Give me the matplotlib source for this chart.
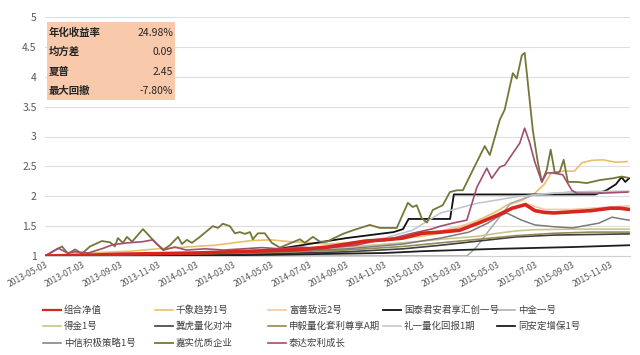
import matplotlib
matplotlib.use("Agg")
from matplotlib import pyplot as plt
from matplotlib.lines import Line2D
from matplotlib.patches import Rectangle

plt.rcParams['font.family'] = ['Noto Sans CJK SC', 'DejaVu Sans']

#----------Data (x = months since 2013-05-03)-------
tick_labels = ['2013-05-03', '2013-07-03', '2013-09-03', '2013-11-03',
               '2014-01-03', '2014-03-03', '2014-05-03', '2014-07-03',
               '2014-09-03', '2014-11-03', '2015-01-03', '2015-03-03',
               '2015-05-03', '2015-07-03', '2015-09-03', '2015-11-03']

stats_names = ['年化收益率', '均方差', '夏普', '最大回撤']
stats_values = ['24.98%', '0.09', '2.45', '-7.80%']

zuhe_m = [0, 2, 4, 6, 8, 10, 12, 13, 14, 15, 16, 17, 18, 19, 20, 21, 22, 23, 24,
          24.8, 25.5, 26.0, 26.5, 27, 28, 29, 30, 30.5, 31]
zuhe_v = [1.0, 1.01, 1.03, 1.04, 1.05, 1.07, 1.09, 1.10, 1.12, 1.15, 1.20, 1.25,
          1.27, 1.30, 1.38, 1.40, 1.43, 1.55, 1.68, 1.80, 1.86, 1.76, 1.73, 1.72,
          1.74, 1.76, 1.80, 1.80, 1.78]

qianxiang_m = [0, 1.5, 3, 4.5, 6, 7.5, 9, 10, 11, 12, 13, 14, 15, 16, 17, 18, 19,
               20, 21, 22, 23, 24, 24.5, 25.3, 26.0, 26.5, 26.9, 27.5, 28.1, 28.5,
               29.0, 29.6, 30.3, 30.9]
qianxiang_v = [1.0, 1.03, 1.06, 1.08, 1.12, 1.15, 1.18, 1.22, 1.26, 1.27, 1.24,
               1.22, 1.20, 1.22, 1.25, 1.26, 1.30, 1.33, 1.38, 1.48, 1.60, 1.75,
               1.85, 1.93, 2.05, 2.20, 2.40, 2.42, 2.42, 2.56, 2.60, 2.61, 2.57, 2.58]

fushan_m = [0, 4, 8, 12, 16, 19, 21, 23, 24.5, 25.5, 26.5, 28, 30, 31]
fushan_v = [1.0, 1.02, 1.04, 1.08, 1.18, 1.30, 1.42, 1.58, 1.75, 1.88, 1.78,
            1.78, 1.82, 1.84]

guotai_m = [0, 5, 8, 12, 14, 16, 18.5, 19.0, 19.3, 21.5, 21.7, 29.2, 29.8, 30.3,
            30.6, 30.8, 31]
guotai_v = [1.0, 1.0, 1.05, 1.10, 1.20, 1.30, 1.40, 1.45, 1.62, 1.62, 2.03, 2.03,
            2.10, 2.20, 2.32, 2.24, 2.30]

zhongjin_m = [0, 12, 18, 20, 21.5, 22.4, 22.9, 23.5, 24.7, 25.9, 26.5, 28, 29, 31]
zhongjin_v = [1.0, 1.0, 1.0, 1.0, 1.0, 1.0, 1.15, 1.40, 1.88, 2.02, 2.04, 2.07,
              2.08, 2.08]

dejin_m = [0, 4, 8, 12, 16, 19, 21, 23, 24, 25, 26, 28, 30, 31]
dejin_v = [1.0, 1.02, 1.05, 1.10, 1.15, 1.22, 1.28, 1.33, 1.38, 1.42, 1.44, 1.45,
           1.45, 1.45]

jihu_m = [0, 4, 8, 12, 16, 19, 21, 23, 25, 27, 29, 31]
jihu_v = [1.0, 1.0, 1.02, 1.04, 1.07, 1.12, 1.18, 1.25, 1.32, 1.35, 1.36, 1.37]

shenyi_m = [0, 4, 8, 12, 16, 19, 21, 23, 25, 27, 29, 31]
shenyi_v = [1.0, 1.01, 1.03, 1.06, 1.10, 1.16, 1.22, 1.28, 1.34, 1.38, 1.40, 1.40]

liyi_m = [0, 4, 8, 12, 16, 18, 19.5, 21, 22.9, 25.2, 26.5, 28, 31]
liyi_v = [1.0, 1.03, 1.06, 1.10, 1.18, 1.30, 1.43, 1.72, 1.88, 2.00, 2.04, 2.07, 2.08]

tongan_m = [0, 6, 12, 18, 20, 24, 28, 31]
tongan_v = [1.0, 1.0, 1.02, 1.05, 1.08, 1.12, 1.15, 1.18]

zhongxin_m = [0, 4, 8, 12, 16, 19, 21, 22.5, 23.5, 24, 24.5, 25.3, 26, 27, 28,
              29.4, 30.1, 30.6, 31]
zhongxin_v = [1.0, 1.03, 1.05, 1.08, 1.12, 1.20, 1.30, 1.40, 1.55, 1.65, 1.72,
              1.60, 1.52, 1.49, 1.47, 1.55, 1.65, 1.62, 1.60]

jiashi_m = [0, 0.9, 1.22, 1.59, 1.96, 2.39, 3.02, 3.45, 3.71, 3.87, 4.14, 4.35,
            4.62, 5.2, 5.73, 6.26, 6.63, 7.06, 7.27, 7.53, 7.8, 8.22, 8.91, 9.18,
            9.44, 9.81, 10.08, 10.34, 10.61, 10.88, 11.03, 11.3, 11.67, 12.04,
            12.47, 12.84, 13.53, 13.79, 14.22, 14.59, 14.96, 15.81, 16.34, 17.24,
            17.77, 18.67, 19.26, 19.52, 19.73, 20.0, 20.27, 20.58, 21.11, 21.49,
            21.86, 22.18, 22.71, 23.34, 23.61, 24.14, 24.4, 24.83, 25.04, 25.31,
            25.46, 25.89, 26.15, 26.37, 26.63, 26.84, 27.06, 27.32, 27.53, 27.75,
            28.22, 28.75, 29.44, 30.13, 30.61, 30.93]
jiashi_v = [1.0, 1.16, 1.04, 1.11, 1.04, 1.16, 1.25, 1.23, 1.16, 1.30, 1.22, 1.32,
            1.24, 1.45, 1.27, 1.10, 1.18, 1.32, 1.20, 1.27, 1.22, 1.32, 1.50, 1.47,
            1.54, 1.50, 1.38, 1.40, 1.37, 1.40, 1.28, 1.38, 1.38, 1.22, 1.14, 1.19,
            1.28, 1.22, 1.32, 1.24, 1.24, 1.37, 1.43, 1.52, 1.47, 1.47, 1.89, 1.82,
            1.85, 1.63, 1.56, 1.77, 1.85, 2.07, 2.10, 2.10, 2.44, 2.84, 2.69, 3.28,
            3.45, 4.06, 3.97, 4.36, 4.40, 3.11, 2.58, 2.24, 2.44, 2.78, 2.39, 2.41,
            2.61, 2.24, 2.24, 2.22, 2.27, 2.30, 2.33, 2.31]

taida_m = [0, 0.7, 1.2, 1.6, 2.3, 3.1, 3.6, 4.4, 5.2, 5.7, 6.3, 6.9, 7.5, 8.5,
           9.5, 10.5, 11.5, 12.5, 13.5, 14.5, 15.5, 16.5, 17.5, 18.5, 19.5, 20.5,
           21.0, 21.64, 22.39, 22.92, 23.45, 23.71, 24.14, 24.4, 24.83, 25.2,
           25.46, 25.73, 25.99, 26.37, 26.63, 26.95, 27.48, 27.96, 28.22, 29.44,
           30.93]
taida_v = [1.0, 1.13, 1.05, 1.07, 1.05, 1.13, 1.19, 1.22, 1.24, 1.27, 1.10, 1.15,
           1.10, 1.12, 1.10, 1.12, 1.14, 1.12, 1.15, 1.13, 1.15, 1.18, 1.25, 1.30,
           1.38, 1.45, 1.50, 1.55, 1.60, 2.15, 2.47, 2.30, 2.49, 2.52, 2.72, 2.89,
           3.14, 2.89, 2.58, 2.24, 2.39, 2.39, 2.36, 2.10, 2.05, 2.05, 2.07]

# legend order: name, x, y, colour, width
series = [
    ('组合净值', zuhe_m, zuhe_v, '#d7261e', 2.6),
    ('千象趋势1号', qianxiang_m, qianxiang_v, '#e9c06a', 1.2),
    ('富善致远2号', fushan_m, fushan_v, '#f6c7a6', 1.2),
    ('国泰君安君享汇创一号', guotai_m, guotai_v, '#111111', 1.3),
    ('中金一号', zhongjin_m, zhongjin_v, '#a9a9a9', 1.1),
    ('得金1号', dejin_m, dejin_v, '#c9c48f', 1.2),
    ('冀虎量化对冲', jihu_m, jihu_v, '#3f3f3f', 1.2),
    ('申毅量化套利尊享A期', shenyi_m, shenyi_v, '#948a54', 1.2),
    ('礼一量化回报1期', liyi_m, liyi_v, '#bcc4cc', 1.1),
    ('同安定增保1号', tongan_m, tongan_v, '#1e1e1e', 1.3),
    ('中信积极策略1号', zhongxin_m, zhongxin_v, '#7b7b7b', 1.1),
    ('嘉实优质企业', jiashi_m, jiashi_v, '#76763a', 1.3),
    ('泰达宏利成长', taida_m, taida_v, '#a34d6f', 1.2),
]

#----------Figure------------------------------------
fig = plt.figure(figsize=(6.4, 3.55), dpi=100)
ax = fig.add_axes([45/640, 1-256/355, 585/640, 239/355])

for name, xm, yv, col, lw in series:
    z = 5 if name == '组合净值' else 3
    ax.plot(xm, yv, color=col, lw=lw, zorder=z, solid_joinstyle='round')

ax.set_xlim(0, 31.05)
ax.set_ylim(1, 5)
ax.set_yticks([1, 1.5, 2, 2.5, 3, 3.5, 4, 4.5, 5])
ax.set_yticklabels(['1', '1.5', '2', '2.5', '3', '3.5', '4', '4.5', '5'])
ax.set_xticks(range(0, 31, 2))
ax.set_xticklabels(tick_labels, rotation=28, ha='right', rotation_mode='anchor')
ax.tick_params(axis='y', length=0, labelsize=7.5, labelcolor='#595959', pad=6)
ax.tick_params(axis='x', length=0, labelsize=6.2, labelcolor='#595959', pad=3)
ax.grid(axis='y', color='#dedede', lw=0.8)
ax.set_axisbelow(True)
for s in ['top', 'right', 'left']:
    ax.spines[s].set_visible(False)
ax.spines['bottom'].set_color('#d0d0d0')

#----------Stats box---------------------------------
fig.patches.append(Rectangle((47/640, 1-100/355), 128/640, 78/355,
                             transform=fig.transFigure, facecolor='#f8c9ab',
                             edgecolor='none', zorder=10))
rows_y = [33, 52, 72, 91]
for nm, val, py in zip(stats_names, stats_values, rows_y):
    fig.text(49/640, 1-py/355, nm, fontsize=7.5, fontweight='bold',
             color='#262626', va='center', ha='left', zorder=11)
    fig.text(173/640, 1-py/355, val, fontsize=7.5, color='#262626',
             va='center', ha='right', zorder=11)

#----------Legend------------------------------------
col_x = [43, 155, 268, 383, 497]
row_y = [310, 326, 343]
for i, (name, xm, yv, col, lw) in enumerate(series):
    cx = col_x[i % 5]
    ry = row_y[i // 5]
    fig.add_artist(Line2D([cx/640, (cx+18)/640], [1-ry/355, 1-ry/355],
                          color=col, lw=min(lw, 1.6), transform=fig.transFigure))
    fig.text((cx+21)/640, 1-ry/355, name, fontsize=6.8, color='#404040',
             va='center', ha='left')

fig.savefig('out.png', dpi=100)
